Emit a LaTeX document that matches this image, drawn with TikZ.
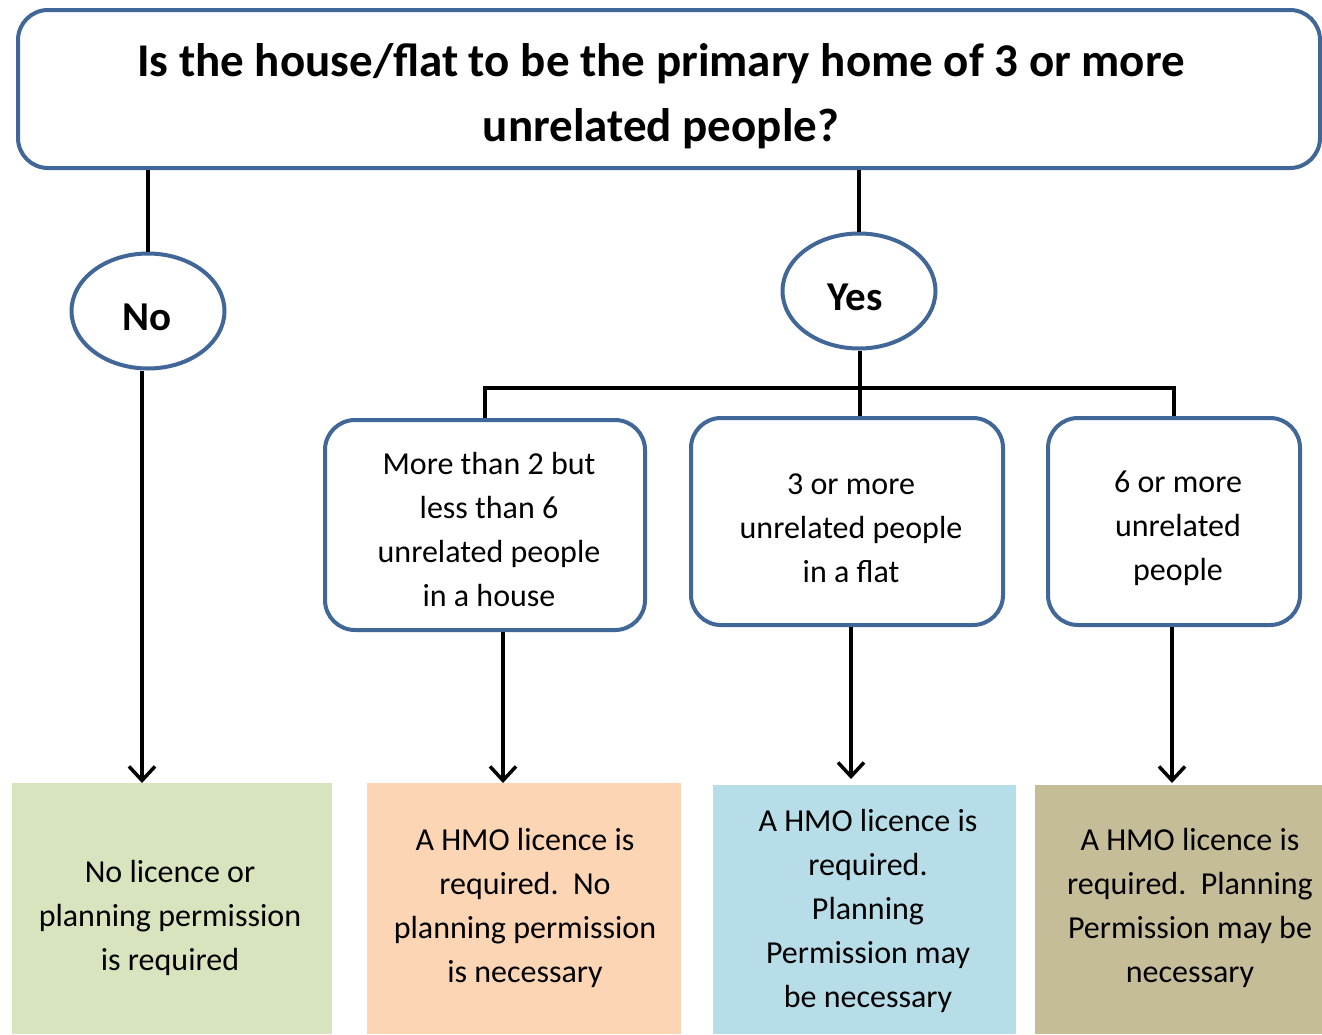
\documentclass[tikz,border=0pt]{standalone}
\usepackage{fontspec}
\setmainfont{Carlito}
\usetikzlibrary{shapes.geometric,arrows.meta}
\definecolor{edgeblue}{RGB}{65,102,152}
\definecolor{cgreen}{RGB}{215,228,189}
\definecolor{corange}{RGB}{252,213,181}
\definecolor{cblue}{RGB}{183,222,232}
\definecolor{ctan}{RGB}{196,189,151}
\tikzset{
  qbox/.style={draw=edgeblue,line width=4pt,rounded corners=30pt,fill=white,inner sep=0pt},
  oval/.style={draw=edgeblue,line width=4pt,ellipse,inner sep=0pt,minimum width=153pt,minimum height=115pt},
  ovaltext/.style={inner sep=0pt,font=\fontsize{41}{48}\selectfont\bfseries},
  opt/.style={draw=edgeblue,line width=4pt,rounded corners=30pt,inner sep=0pt},
  txt/.style={inner sep=0pt,align=center,font=\fontsize{32}{44}\selectfont},
  conn/.style={line width=4pt,black},
  arr/.style={conn,-{Straight Barb[length=14pt,width=26pt,line width=3.5pt]}}
}
\begin{document}
\begin{tikzpicture}[x=1pt,y=-1pt]
\useasboundingbox (0,0) rectangle (1322,1034);
% top question
\node[qbox,minimum width=1302pt,minimum height=158pt] (top) at (669,89) {};
\node[txt,font=\fontsize{47}{65}\selectfont\bfseries] (toptext) at (661,96)
  {Is the house/flat to be the primary home of 3 or more\\unrelated people?};
% ovals
\node[oval] (no) at (148,311) {};
\node[ovaltext] (notext) at (147,317) {No};
\node[oval] (yes) at (859,291) {};
\node[ovaltext] (yestext) at (855,297) {Yes};
% option boxes
\node[opt,minimum width=320pt,minimum height=210pt] (m1) at (485,525) {};
\node[txt] (m1text) at (489,529) {More than 2 but\\less than 6\\unrelated people\\in a house};
\node[opt,minimum width=312pt,minimum height=207pt] (m2) at (847,521.5) {};
\node[txt] (m2text) at (851,528) {3 or more\\unrelated people\\in a flat};
\node[opt,minimum width=252pt,minimum height=207pt] (m3) at (1174,521.5) {};
\node[txt] (m3text) at (1178,528) {6 or more\\unrelated\\people};
% result boxes
\fill[cgreen] (12,783) rectangle (332,1034);
\fill[corange] (367,783) rectangle (681,1034);
\fill[cblue] (713,785) rectangle (1016,1034);
\fill[ctan] (1035,785) rectangle (1322,1034);
\node[txt] (r1) at (170,918) {No licence or\\planning permission\\is required};
\node[txt] (r2) at (525,908) {A HMO licence is\\required.\ \ No\\planning permission\\is necessary};
\node[txt] (r3) at (868,911) {A HMO licence is\\required.\\Planning\\Permission may\\be necessary};
\node[txt] (r4) at (1190,908) {A HMO licence is\\required.\ \ Planning\\Permission may be\\necessary};
\coordinate (e1) at (142,783);
\coordinate (e2) at (503,783);
\coordinate (e3) at (851,779);
\coordinate (e4) at (1172,783);
% connectors
\draw[conn] (top.south -| no.north) -- (no.north);
\draw[conn] (top.south -| yes.north) -- (yes.north);
\coordinate (j) at (860,388);
\draw[conn] (yes.south -| j) -- (j |- m2.north);
\draw[conn] (m1.north) |- (j) -| (m3.north);
\draw[arr] (no.south -| e1) -- (e1);
\draw[arr] (m1.south -| e2) -- (e2);
\draw[arr] (m2.south -| e3) -- (e3);
\draw[arr] (m3.south -| e4) -- (e4);
\end{tikzpicture}
\end{document}
